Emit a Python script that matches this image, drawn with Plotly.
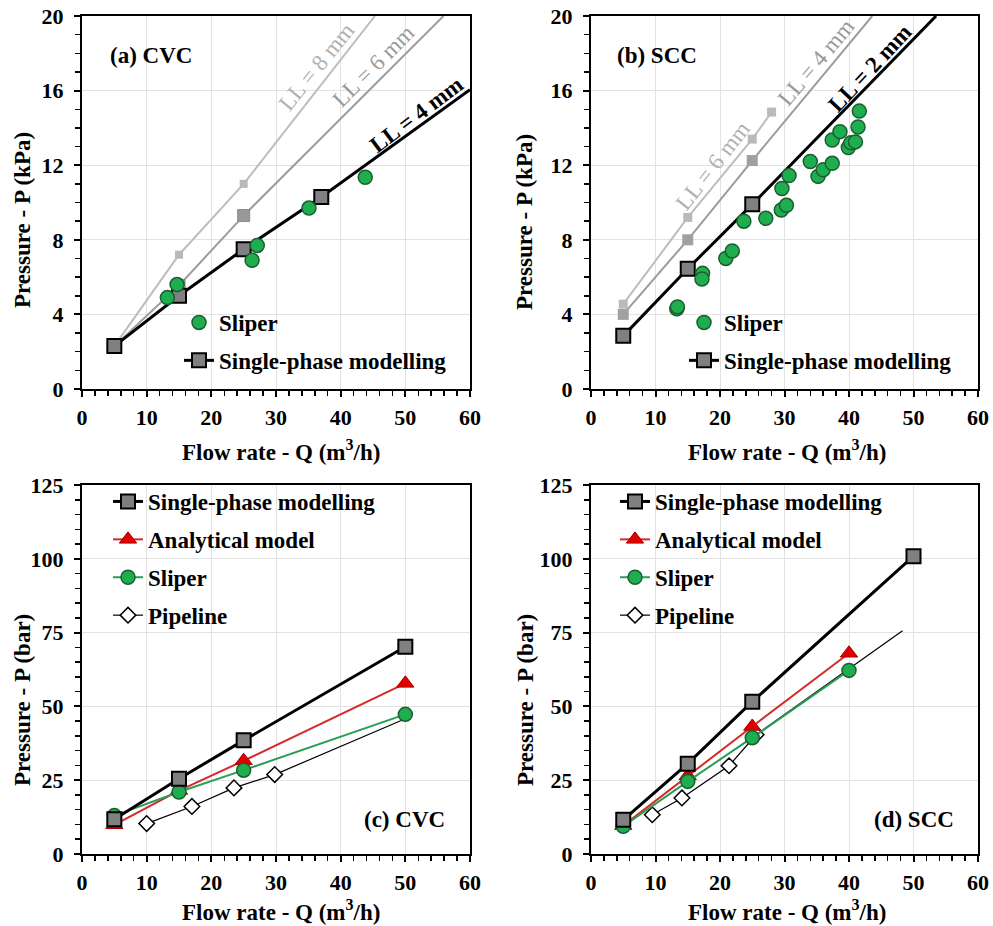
import plotly.graph_objects as go

# ---------------- data ----------------
# Panel (a) CVC
a_sp_x = [5, 15, 25, 37]
a_sp_y = [2.3, 5.0, 7.5, 10.3]
a_sp_ext_x = [37, 60]
a_sp_ext_y = [10.3, 16.05]
a_ll6_x = [5, 15, 25]
a_ll6_y = [2.3, 5.55, 9.3]
a_ll6_ext_x = [25, 55.9]
a_ll6_ext_y = [9.3, 20.0]
a_ll8_x = [5, 15, 25]
a_ll8_y = [2.3, 7.2, 11.0]
a_ll8_ext_x = [25, 45.3]
a_ll8_ext_y = [11.0, 20.0]
a_sl_x = [13.2, 14.7, 26.3, 27.1, 35.1, 43.8]
a_sl_y = [4.9, 5.6, 6.9, 7.7, 9.7, 11.35]

# Panel (b) SCC
b_sp_x = [5, 15, 25]
b_sp_y = [2.85, 6.45, 9.9]
b_sp_ext_x = [25, 53.5]
b_sp_ext_y = [9.9, 20.0]
b_ll4_x = [5, 15, 25]
b_ll4_y = [4.0, 8.0, 12.25]
b_ll4_ext_x = [25, 43.6]
b_ll4_ext_y = [12.25, 20.0]
b_ll6_x = [5, 15, 25, 28]
b_ll6_y = [4.55, 9.2, 13.4, 14.85]
b_sl_x = [13.3, 13.4, 17.3, 17.2, 20.9, 21.9, 23.7, 27.1, 29.5, 30.3, 29.6, 30.7,
          34.0, 35.2, 36.0, 37.4, 37.4, 38.6, 39.9, 40.3, 41.0, 41.4, 41.6]
b_sl_y = [4.3, 4.4, 6.2, 5.9, 7.0, 7.4, 9.0, 9.15, 9.6, 9.85, 10.75, 11.45,
          12.2, 11.4, 11.75, 12.1, 13.35, 13.8, 12.95, 13.2, 13.25, 14.05, 14.9]

# Panel (c) CVC
c_sp_x = [5, 15, 25, 50]
c_sp_y = [11.8, 25.5, 38.5, 70.2]
c_an_x = [5, 15, 25, 50]
c_an_y = [9.9, 21.5, 31.6, 57.8]
c_sl_x = [5, 15, 25, 50]
c_sl_y = [13.0, 21.0, 28.4, 47.3]
c_pl_x = [10, 17, 23.5, 29.8]
c_pl_y = [10.3, 16.1, 22.4, 26.9]
c_pl_ext_x = [29.8, 50]
c_pl_ext_y = [26.9, 45.8]

# Panel (d) SCC
d_sp_x = [5, 15, 25, 50]
d_sp_y = [11.6, 30.6, 51.6, 100.9]
d_an_x = [5, 15, 25, 40]
d_an_y = [9.6, 26.5, 43.2, 68.0]
d_sl_x = [5, 15, 25, 40]
d_sl_y = [9.4, 24.6, 39.4, 62.2]
d_pl_x = [9.5, 14.1, 21.4, 25.6]
d_pl_y = [13.3, 19.0, 29.9, 40.4]
d_pl_ext_x = [25.6, 48.3]
d_pl_ext_y = [40.4, 75.6]

x_ticks = [0, 10, 20, 30, 40, 50, 60]
y_top_ticks = [0, 4, 8, 12, 16, 20]
y_bot_ticks = [0, 25, 50, 75, 100, 125]

# ---------------- styles ----------------
FONT = "Liberation Serif, Times New Roman, serif"
BLACK = "#000000"
SP_FILL = "#808080"
GREEN_FILL = "#1fae4f"
GREEN_EDGE = "#1b5e2f"
GREEN_LINE = "#2a9d55"
RED_FILL = "#e00000"
RED_EDGE = "#b00000"
RED_LINE = "#d42a2a"
MID_GRAY = "#9c9c9c"
LIGHT_GRAY = "#bdbdbd"

fig = go.Figure()

def add(x, y, xa, ya, **kw):
    fig.add_trace(go.Scatter(x=x, y=y, xaxis=xa, yaxis=ya, **kw))

def b(s):
    return "<b>" + s + "</b>"

sp_marker = dict(symbol="square", size=14, color=SP_FILL, line=dict(color=BLACK, width=2))
sl_marker = dict(symbol="circle", size=14, color=GREEN_FILL, line=dict(color=GREEN_EDGE, width=1.5))

# ---- panel (a)
add(a_ll8_ext_x, a_ll8_ext_y, "x", "y", mode="lines", line=dict(color=LIGHT_GRAY, width=2), showlegend=False)
add(a_ll8_x, a_ll8_y, "x", "y", mode="lines+markers", line=dict(color=LIGHT_GRAY, width=2),
    marker=dict(symbol="square", size=8, color="#b8b8b8"), showlegend=False)
add(a_ll6_ext_x, a_ll6_ext_y, "x", "y", mode="lines", line=dict(color=MID_GRAY, width=2), showlegend=False)
add(a_ll6_x, a_ll6_y, "x", "y", mode="lines+markers", line=dict(color=MID_GRAY, width=2),
    marker=dict(symbol="square", size=12, color="#999999", line=dict(color="#8a8a8a", width=1)), showlegend=False)
add(a_sp_ext_x, a_sp_ext_y, "x", "y", mode="lines", line=dict(color=BLACK, width=3), showlegend=False)
add(a_sp_x, a_sp_y, "x", "y", mode="lines+markers", name=b("Single-phase modelling"),
    line=dict(color=BLACK, width=3), marker=sp_marker, legend="legend", legendgroup="a2", legendrank=2)
add(a_sl_x, a_sl_y, "x", "y", mode="markers", name=b("Sliper"), marker=sl_marker,
    legend="legend", legendgroup="a1", legendrank=1)

# ---- panel (b)
add(b_ll6_x, b_ll6_y, "x2", "y2", mode="lines+markers", line=dict(color=LIGHT_GRAY, width=2),
    marker=dict(symbol="square", size=9, color="#bababa"), showlegend=False)
add(b_ll4_ext_x, b_ll4_ext_y, "x2", "y2", mode="lines", line=dict(color=MID_GRAY, width=2), showlegend=False)
add(b_ll4_x, b_ll4_y, "x2", "y2", mode="lines+markers", line=dict(color=MID_GRAY, width=2),
    marker=dict(symbol="square", size=11, color="#a0a0a0"), showlegend=False)
add(b_sp_ext_x, b_sp_ext_y, "x2", "y2", mode="lines", line=dict(color=BLACK, width=3), showlegend=False)
add(b_sp_x, b_sp_y, "x2", "y2", mode="lines+markers", name=b("Single-phase modelling"),
    line=dict(color=BLACK, width=3), marker=sp_marker, legend="legend2", legendgroup="b2", legendrank=2)
add(b_sl_x, b_sl_y, "x2", "y2", mode="markers", name=b("Sliper"), marker=sl_marker,
    legend="legend2", legendgroup="b1", legendrank=1)

# ---- panels (c) and (d)
def bottom(xa, ya, leg, tag, sp, an, sl, pl, pl_ext):
    add(pl_ext[0], pl_ext[1], xa, ya, mode="lines", line=dict(color=BLACK, width=1.2), showlegend=False)
    add(pl[0], pl[1], xa, ya, mode="lines+markers", name=b("Pipeline"),
        line=dict(color=BLACK, width=1.2),
        marker=dict(symbol="diamond", size=12, color="white", line=dict(color=BLACK, width=1.5)),
        legend=leg, legendgroup=tag + "4", legendrank=4)
    add(an[0], an[1], xa, ya, mode="lines+markers", name=b("Analytical model"),
        line=dict(color=RED_LINE, width=2),
        marker=dict(symbol="triangle-up", size=15, color=RED_FILL, line=dict(color=RED_EDGE, width=1)),
        legend=leg, legendgroup=tag + "2", legendrank=2)
    add(sl[0], sl[1], xa, ya, mode="lines+markers", name=b("Sliper"),
        line=dict(color=GREEN_LINE, width=2), marker=sl_marker,
        legend=leg, legendgroup=tag + "3", legendrank=3)
    add(sp[0], sp[1], xa, ya, mode="lines+markers", name=b("Single-phase modelling"),
        line=dict(color=BLACK, width=3), marker=sp_marker,
        legend=leg, legendgroup=tag + "1", legendrank=1)

bottom("x3", "y3", "legend3", "c", (c_sp_x, c_sp_y), (c_an_x, c_an_y), (c_sl_x, c_sl_y),
       (c_pl_x, c_pl_y), (c_pl_ext_x, c_pl_ext_y))
bottom("x4", "y4", "legend4", "d", (d_sp_x, d_sp_y), (d_an_x, d_an_y), (d_sl_x, d_sl_y),
       (d_pl_x, d_pl_y), (d_pl_ext_x, d_pl_ext_y))

# ---------------- layout ----------------
W, H = 993, 926
def px(v):
    return v / W
def py(v):
    return 1 - v / H

dom_x_left = [px(82), px(470)]
dom_x_right = [px(591), px(978)]
dom_y_top = [py(389), py(16)]
dom_y_bot = [py(854), py(485)]

tickfont = dict(family=FONT, size=22, color=BLACK)

def xaxis(domain, anchor):
    return dict(domain=domain, anchor=anchor, range=[0, 60], tickvals=x_ticks,
                ticktext=[b(str(v)) for v in x_ticks], automargin=False,
                showline=True, linecolor=BLACK, linewidth=2, mirror=True,
                ticks="outside", ticklen=6, tickwidth=2, tickcolor=BLACK,
                minor=dict(dtick=2, ticks="outside", ticklen=5, tickwidth=1.5, tickcolor=BLACK, showgrid=False),
                showgrid=True, gridcolor="#e2e2e2", gridwidth=1, zeroline=False,
                tickfont=tickfont, ticklabelstandoff=2, fixedrange=True)

def yaxis(domain, anchor, rng, ticks, minor):
    return dict(domain=domain, anchor=anchor, range=rng, tickvals=ticks,
                ticktext=[b(str(v)) for v in ticks], automargin=False,
                showline=True, linecolor=BLACK, linewidth=2, mirror=True,
                ticks="outside", ticklen=6, tickwidth=2, tickcolor=BLACK,
                minor=dict(dtick=minor, ticks="outside", ticklen=5, tickwidth=1.5, tickcolor=BLACK, showgrid=False),
                showgrid=True, gridcolor="#e2e2e2", gridwidth=1, zeroline=False,
                tickfont=tickfont, ticklabelstandoff=6, fixedrange=True)

legend_common = dict(bgcolor="rgba(0,0,0,0)", borderwidth=0, xanchor="left", yanchor="top",
                     traceorder="grouped", tracegroupgap=5, itemsizing="trace",
                     font=dict(family=FONT, size=23, color=BLACK))

fig.update_layout(
    width=W, height=H, autosize=False,
    margin=dict(l=0, r=0, t=0, b=0, autoexpand=False),
    paper_bgcolor="white", plot_bgcolor="white",
    xaxis=xaxis(dom_x_left, "y"), yaxis=yaxis(dom_y_top, "x", [0, 20], y_top_ticks, 1),
    xaxis2=xaxis(dom_x_right, "y2"), yaxis2=yaxis(dom_y_top, "x2", [0, 20], y_top_ticks, 1),
    xaxis3=xaxis(dom_x_left, "y3"), yaxis3=yaxis(dom_y_bot, "x3", [0, 125], y_bot_ticks, 5),
    xaxis4=xaxis(dom_x_right, "y4"), yaxis4=yaxis(dom_y_bot, "x4", [0, 125], y_bot_ticks, 5),
    legend=dict(x=px(179), y=py(301), **legend_common),
    legend2=dict(x=px(684), y=py(301), **legend_common),
    legend3=dict(x=px(108), y=py(480), **legend_common),
    legend4=dict(x=px(615), y=py(480), **legend_common),
    showlegend=True,
)

annotations = []
def ann(text, x, y, xref="paper", yref="paper", size=23, color=BLACK, angle=0):
    annotations.append(dict(text=text, x=x, y=y, xref=xref, yref=yref, showarrow=False,
                            textangle=angle, xanchor="center", yanchor="middle",
                            font=dict(family=FONT, size=size, color=color)))

# axis titles
ytitle_top = b("Pressure - P (kPa)")
ytitle_bot = b("Pressure - P (bar)")
xtitle = b("Flow rate - Q (m<sup>3</sup>/h)")
ann(ytitle_top, px(22), py(220), angle=-90)
ann(ytitle_top, px(525), py(222), angle=-90)
ann(ytitle_bot, px(22), py(700), angle=-90)
ann(ytitle_bot, px(525), py(700), angle=-90)
ann(xtitle, px(281), py(450))
ann(xtitle, px(787), py(450))
ann(xtitle, px(281), py(910))
ann(xtitle, px(787), py(910))

# panel labels
ann(b("(a) CVC"), 10.7, 17.9, "x", "y")
ann(b("(b) SCC"), 10.2, 17.9, "x2", "y2")
ann(b("(c) CVC"), 49.8, 11.6, "x3", "y3")
ann(b("(d) SCC"), 50.1, 11.6, "x4", "y4")

# line labels (placed just above their lines)
ann("LL = 8 mm", 36.3, 17.3, "x", "y", size=23, color="#b0b0b0", angle=-51)
ann("LL = 6 mm", 45.0, 17.3, "x", "y", size=23, color="#999999", angle=-45)
ann(b("LL = 4 mm"), 51.8, 14.7, "x", "y", size=23, color=BLACK, angle=-37)
ann("LL = 6 mm", 18.9, 12.0, "x2", "y2", size=23, color="#b0b0b0", angle=-52)
ann("LL = 4 mm", 34.9, 17.5, "x2", "y2", size=23, color="#999999", angle=-50)
ann(b("LL = 2 mm"), 43.2, 17.2, "x2", "y2", size=23, color=BLACK, angle=-47)

fig.update_layout(annotations=annotations)

fig.write_html(
    "out.html",
    config={"displayModeBar": False, "staticPlot": True},
    post_script="document.body.style.margin='0';document.body.style.overflow='hidden';",
)
